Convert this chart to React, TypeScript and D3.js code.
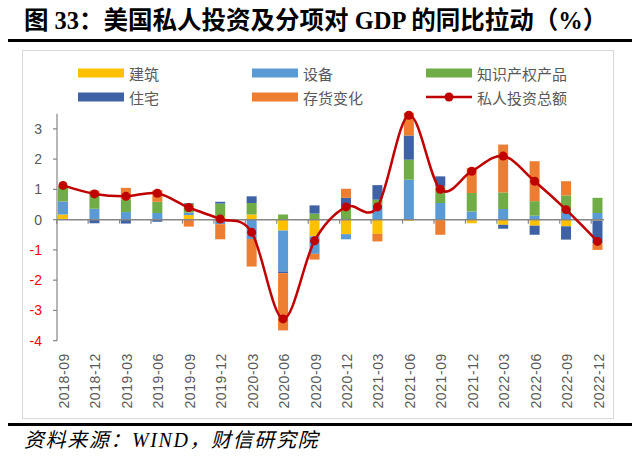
import React from "react";
import * as d3 from "d3";

const categories = ["2018-09","2018-12","2019-03","2019-06","2019-09","2019-12","2020-03","2020-06","2020-09","2020-12","2021-03","2021-06","2021-09","2021-12","2022-03","2022-06","2022-09","2022-12"];
const construction = [0.17, 0, 0, 0, 0.15, 0.1, 0.17, -0.36, -0.55, -0.48, -0.47, -0.04, -0.02, -0.12, -0.17, -0.2, -0.22, -0.03];
const equipment = [0.43, 0.36, 0.25, 0.22, 0.08, -0.15, -0.64, -1.35, -0.58, -0.17, 0.5, 1.32, 0.55, 0.27, 0.35, 0.13, 0.22, 0.22];
const ipProducts = [0.5, 0.48, 0.42, 0.37, 0.3, 0.43, 0.38, 0.17, 0.2, 0.42, 0.16, 0.66, 0.55, 0.61, 0.55, 0.48, 0.58, 0.5];
const residential = [0, -0.12, -0.13, -0.07, 0.02, 0.06, 0.22, -0.06, 0.27, 0.3, 0.48, 0.8, 0.33, 0, -0.13, -0.3, -0.44, -0.74];
const inventory = [0, 0.12, 0.38, 0.38, -0.23, -0.5, -0.91, -1.89, -0.19, 0.3, -0.25, 0.75, -0.48, 0.83, 1.58, 1.32, 0.47, -0.23];
const totalInvestment = [1.13, 0.85, 0.77, 0.87, 0.4, 0.02, -0.42, -3.28, -0.7, 0.42, 0.42, 3.45, 1.0, 1.6, 2.1, 1.27, 0.33, -0.72];
const yTicks = [-4, -3, -2, -1, 0, 1, 2, 3];

const seriesKeys = ["construction", "equipment", "ip", "residential", "inventory"];
const seriesNames = ["建筑", "设备", "知识产权产品", "住宅", "存货变化"];
const seriesColors = ["#FFC000", "#5B9BD5", "#70AD47", "#3F62A6", "#ED7D31"];
const lineName = "私人投资总额";
const lineColor = "#C00000";

const CJK = "'Noto Sans CJK SC', sans-serif";
const LATIN = "'Liberation Sans', 'Noto Sans CJK SC', sans-serif";

export default function App() {
  const W = 640, H = 460;
  const x = d3.scalePoint<string>().domain(categories).range([63, 597.5]);
  const y = d3.scaleLinear().domain([-4, 3.5]).range([340.7, 113.7]);
  const axisX = 57;
  const barW = 10;

  const rows = categories.map((c, i) => ({
    cat: c,
    construction: construction[i],
    equipment: equipment[i],
    ip: ipProducts[i],
    residential: residential[i],
    inventory: inventory[i],
  }));
  const stacked = d3.stack<any>().keys(seriesKeys).offset(d3.stackOffsetDiverging)(rows);

  const line = d3.line<number>()
    .x((_, i) => x(categories[i]) as number)
    .y((d) => y(d))
    .curve(d3.curveCatmullRom.alpha(0));

  const legendItems = [
    { name: seriesNames[0], color: seriesColors[0], x: 78, y: 73 },
    { name: seriesNames[1], color: seriesColors[1], x: 252, y: 73 },
    { name: seriesNames[2], color: seriesColors[2], x: 426, y: 73 },
    { name: seriesNames[3], color: seriesColors[3], x: 78, y: 97 },
    { name: seriesNames[4], color: seriesColors[4], x: 252, y: 97 },
  ];

  return (
    <svg width={W} height={H} style={{ position: "absolute", left: 0, top: 0, background: "#fff" }}>
      <rect x={0} y={0} width={W} height={H} fill="#fff" />
      {/* Title */}
      <text x={24} y={29} fontSize={24.5} fontWeight="bold" fill="#000"
        fontFamily={"'Liberation Serif', 'Noto Sans CJK SC', serif"}>
        图 33：美国私人投资及分项对 GDP 的同比拉动（%）
      </text>
      <line x1={8} x2={632} y1={40.5} y2={40.5} stroke="#000" strokeWidth={3} />

      {/* Chart frame */}
      <rect x={22.5} y={50.5} width={591} height={368} fill="none" stroke="#D9D9D9" strokeWidth={1} />

      {/* Legend */}
      {legendItems.map((d) => (
        <g key={d.name}>
          <rect x={d.x} y={d.y - 4.5} width={46} height={9} fill={d.color} />
          <text x={d.x + 51} y={d.y} dominantBaseline="central" fontSize={15} fill="#595959" fontFamily={CJK}>{d.name}</text>
        </g>
      ))}
      <g>
        <line x1={426} x2={472} y1={97} y2={97} stroke={lineColor} strokeWidth={2.5} />
        <circle cx={449} cy={97} r={4.5} fill={lineColor} />
        <text x={477} y={97} dominantBaseline="central" fontSize={15} fill="#595959" fontFamily={CJK}>{lineName}</text>
      </g>

      {/* Bars */}
      {stacked.map((s, si) => (
        <g key={s.key} fill={seriesColors[si]}>
          {s.map((d, i) => {
            const y0 = y(d[0]);
            const y1 = y(d[1]);
            const h = Math.abs(y0 - y1);
            if (h < 0.01) return null;
            return <rect key={i} x={(x(categories[i]) as number) - barW / 2} y={Math.min(y0, y1)} width={barW} height={h} />;
          })}
        </g>
      ))}

      {/* Y axis */}
      <line x1={axisX} x2={axisX} y1={y(3.5)} y2={y(-4)} stroke="#868686" strokeWidth={1.2} />
      {yTicks.map((t) => (
        <g key={t}>
          <line x1={axisX - 4} x2={axisX} y1={y(t)} y2={y(t)} stroke="#868686" strokeWidth={1.2} />
          <text x={axisX - 15} y={y(t)} textAnchor="end" dominantBaseline="central" fontSize={14}
            fill={t < 0 ? "#FF0000" : "#595959"} fontFamily={LATIN}>{t}</text>
        </g>
      ))}

      {/* Zero line / category axis */}
      <line x1={axisX} x2={604} y1={y(0)} y2={y(0)} stroke="#868686" strokeWidth={1.5} />
      {categories.map((c) => (
        <line key={c} x1={(x(c) as number) - 6.3} x2={(x(c) as number) - 6.3} y1={y(0)} y2={y(0) + 4} stroke="#868686" strokeWidth={1.2} />
      ))}

      {/* Line series */}
      <path d={line(totalInvestment) || ""} fill="none" stroke={lineColor} strokeWidth={2.5} />
      {totalInvestment.map((v, i) => (
        <circle key={i} cx={x(categories[i]) as number} cy={y(v)} r={4.5} fill={lineColor} />
      ))}

      {/* X labels */}
      {categories.map((c) => {
        const cx = (x(c) as number) + 1;
        return (
          <text key={c} transform={`translate(${cx},353) rotate(-90)`} textAnchor="end" dominantBaseline="central"
            fontSize={14} letterSpacing={0.6} fill="#595959" fontFamily={LATIN}>{c}</text>
        );
      })}

      {/* Footer */}
      <line x1={8} x2={632} y1={424.5} y2={424.5} stroke="#000" strokeWidth={3} />
      <text x={24} y={447} fontSize={20} letterSpacing={1.6} fontStyle="italic" fill="#000"
        fontFamily={"'Liberation Serif', 'Noto Sans CJK SC', serif"}>资料来源：WIND，财信研究院</text>
    </svg>
  );
}
